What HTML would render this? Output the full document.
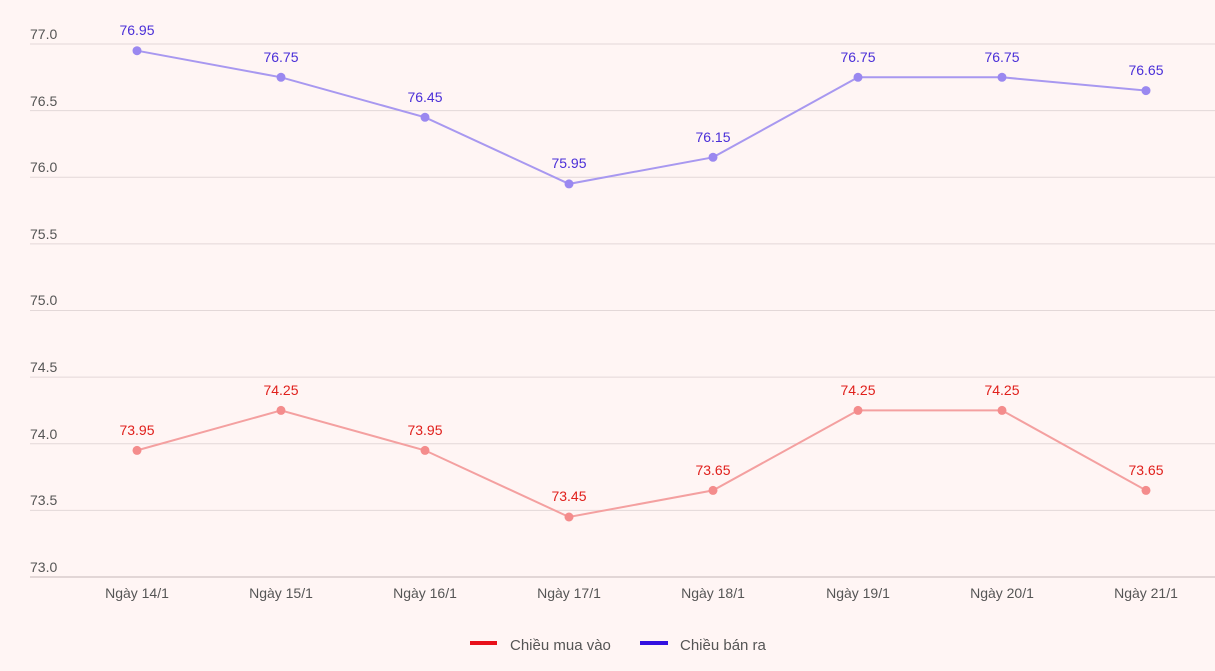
<!DOCTYPE html><html><head><meta charset="utf-8"><style>body{margin:0;background:#fff5f4}svg{display:block}text{font-family:"Liberation Sans",sans-serif}</style></head><body>
<svg width="1215" height="671" viewBox="0 0 1215 671">
<rect width="1215" height="671" fill="#fff5f4"/>
<g stroke="#e3d8d8" stroke-width="1">
<line x1="30" x2="1215" y1="44" y2="44"/><line x1="30" x2="1215" y1="110.6" y2="110.6"/><line x1="30" x2="1215" y1="177.2" y2="177.2"/><line x1="30" x2="1215" y1="243.9" y2="243.9"/><line x1="30" x2="1215" y1="310.5" y2="310.5"/><line x1="30" x2="1215" y1="377.1" y2="377.1"/><line x1="30" x2="1215" y1="443.8" y2="443.8"/><line x1="30" x2="1215" y1="510.4" y2="510.4"/><line x1="30" x2="1215" y1="577" y2="577" stroke="#d8cccc" stroke-width="1.5"/>
</g>
<g font-size="14" fill="#555">
<text x="30" y="39">77.0</text><text x="30" y="106">76.5</text><text x="30" y="172">76.0</text><text x="30" y="239">75.5</text><text x="30" y="305">75.0</text><text x="30" y="372">74.5</text><text x="30" y="439">74.0</text><text x="30" y="505">73.5</text><text x="30" y="572">73.0</text>
</g>
<g font-size="14" fill="#555" text-anchor="middle">
<text x="137" y="598">Ngày 14/1</text><text x="281" y="598">Ngày 15/1</text><text x="425" y="598">Ngày 16/1</text><text x="569" y="598">Ngày 17/1</text><text x="713" y="598">Ngày 18/1</text><text x="858" y="598">Ngày 19/1</text><text x="1002" y="598">Ngày 20/1</text><text x="1146" y="598">Ngày 21/1</text>
</g>
<polyline fill="none" stroke="#a898f0" stroke-width="2" points="137,50.7 281,77.3 425,117.3 569,183.9 713,157.3 858,77.3 1002,77.3 1146,90.6"/>
<g fill="#9a88f0"><circle cx="137" cy="50.7" r="4.5"/><circle cx="281" cy="77.3" r="4.5"/><circle cx="425" cy="117.3" r="4.5"/><circle cx="569" cy="183.9" r="4.5"/><circle cx="713" cy="157.3" r="4.5"/><circle cx="858" cy="77.3" r="4.5"/><circle cx="1002" cy="77.3" r="4.5"/><circle cx="1146" cy="90.6" r="4.5"/></g>
<polyline fill="none" stroke="#f4a0a0" stroke-width="2" points="137,450.4 281,410.4 425,450.4 569,517 713,490.4 858,410.4 1002,410.4 1146,490.4"/>
<g fill="#f48c8c"><circle cx="137" cy="450.4" r="4.5"/><circle cx="281" cy="410.4" r="4.5"/><circle cx="425" cy="450.4" r="4.5"/><circle cx="569" cy="517" r="4.5"/><circle cx="713" cy="490.4" r="4.5"/><circle cx="858" cy="410.4" r="4.5"/><circle cx="1002" cy="410.4" r="4.5"/><circle cx="1146" cy="490.4" r="4.5"/></g>
<g font-size="14" fill="#4a2fd8" text-anchor="middle">
<text x="137" y="35">76.95</text><text x="281" y="62">76.75</text><text x="425" y="102">76.45</text><text x="569" y="168">75.95</text><text x="713" y="142">76.15</text><text x="858" y="62">76.75</text><text x="1002" y="62">76.75</text><text x="1146" y="75">76.65</text>
</g>
<g font-size="14" fill="#e0201c" text-anchor="middle">
<text x="137" y="435">73.95</text><text x="281" y="395">74.25</text><text x="425" y="435">73.95</text><text x="569" y="501">73.45</text><text x="713" y="475">73.65</text><text x="858" y="395">74.25</text><text x="1002" y="395">74.25</text><text x="1146" y="475">73.65</text>
</g>
<rect x="470" y="641" width="27" height="4" fill="#e8101a"/>
<text x="510" y="650" font-size="15" fill="#555">Chiều mua vào</text>
<rect x="640" y="641" width="28" height="4" fill="#3310e0"/>
<text x="680" y="650" font-size="15" fill="#555">Chiều bán ra</text>
</svg>
</body></html>
